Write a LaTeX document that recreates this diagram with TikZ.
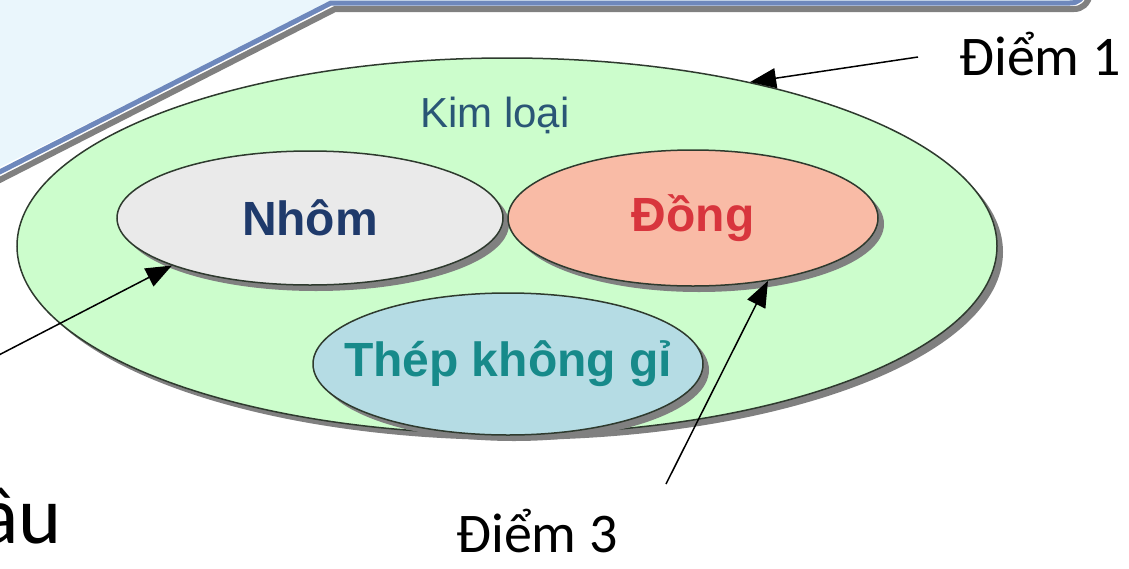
\documentclass[tikz,border=0pt]{standalone}
\usepackage{fontspec}
\setmainfont{Carlito}
\newfontfamily\arialfont{Liberation Sans}
\usetikzlibrary{shapes.geometric,arrows.meta,shadows}
\definecolor{panelfill}{HTML}{EAF6FC}
\definecolor{panelline}{HTML}{6E88BC}
\definecolor{shadowgray}{HTML}{808080}
\definecolor{kimfill}{HTML}{CCFDCC}
\definecolor{nhomfill}{HTML}{EAEAEA}
\definecolor{dongfill}{HTML}{F9BBA6}
\definecolor{thepfill}{HTML}{B5DCE4}
\definecolor{ellline}{HTML}{2E3A2E}
\definecolor{nhomtext}{HTML}{1F3A6B}
\definecolor{dongtext}{HTML}{D8353D}
\definecolor{theptext}{HTML}{178A8A}
\definecolor{kimtext}{HTML}{2A5676}
\tikzset{
  ell/.style={ellipse, draw=ellline, line width=1.5pt, inner sep=0pt,
    general shadow={fill=shadowgray, shadow xshift=6pt, shadow yshift=-6pt}},
  inner/.style={font=\arialfont\bfseries\fontsize{48}{50}\selectfont, inner sep=-45pt},
  lbl/.style={font=\fontsize{56}{60}\selectfont, anchor=base, inner sep=0pt},
  arr/.style={-{Triangle[length=26pt,width=20pt]}, line width=1.5pt, black},
}
\begin{document}
\begin{tikzpicture}[x=1pt,y=-1pt]
\useasboundingbox (0,0) rectangle (1129,568);
\clip (0,0) rectangle (1129,568);
% top-left panel
\fill[panelfill] (-20,-20) -- (-20,177) -- (332,2) -- (1072,2)
  .. controls (1080,2) and (1084,-2) .. (1086,-12) -- (1086,-20) -- cycle;
\draw[shadowgray, line width=6pt] (-20,190) -- (335,9) -- (1074,9)
  .. controls (1082,9) and (1088,4) .. (1090,-6);
\draw[panelline, line width=5pt] (-20,182) -- (331,3) -- (1070,3)
  .. controls (1078,3) and (1083,-1) .. (1085,-10);
% ellipses
\node[ell, fill=kimfill, minimum width=980pt, minimum height=376pt] (kim) at (507,246) {};
\node[font=\arialfont\fontsize{42}{44}\selectfont, text=kimtext, anchor=base, inner sep=0pt] (kimlbl) at (495,127) {Kim loại};
\node[ell, fill=nhomfill, minimum width=386pt, minimum height=134pt, inner, text=nhomtext] (nhom) at (310,218) {\raisebox{-3pt}{Nhôm}};
\node[ell, fill=dongfill, minimum width=370pt, minimum height=136pt, inner, text=dongtext] (dong) at (693,218) {\raisebox{-3pt}{Đồng}};
\node[ell, fill=thepfill, minimum width=390pt, minimum height=142pt, inner, text=theptext] (thep) at (508,364) {Thép không gỉ};
% labels
\node[lbl] (d1) at (1040,75) {Điểm 1};
\node[lbl] (d3) at (537,552) {Điểm 3};
\node[font=\fontsize{82}{90}\selectfont, anchor=base east, inner sep=0pt] (dau) at (62,543) {ầu};
% connectors
\coordinate (p1) at (918,57);
\coordinate (p3) at (666,484);
\coordinate (ls) at (-5,357);
\draw[arr] (p1) -- (kim.34);
\draw[arr] (p3) -- (dong.-40);
\draw[arr] (ls) -- (nhom.199);
\end{tikzpicture}
\end{document}
